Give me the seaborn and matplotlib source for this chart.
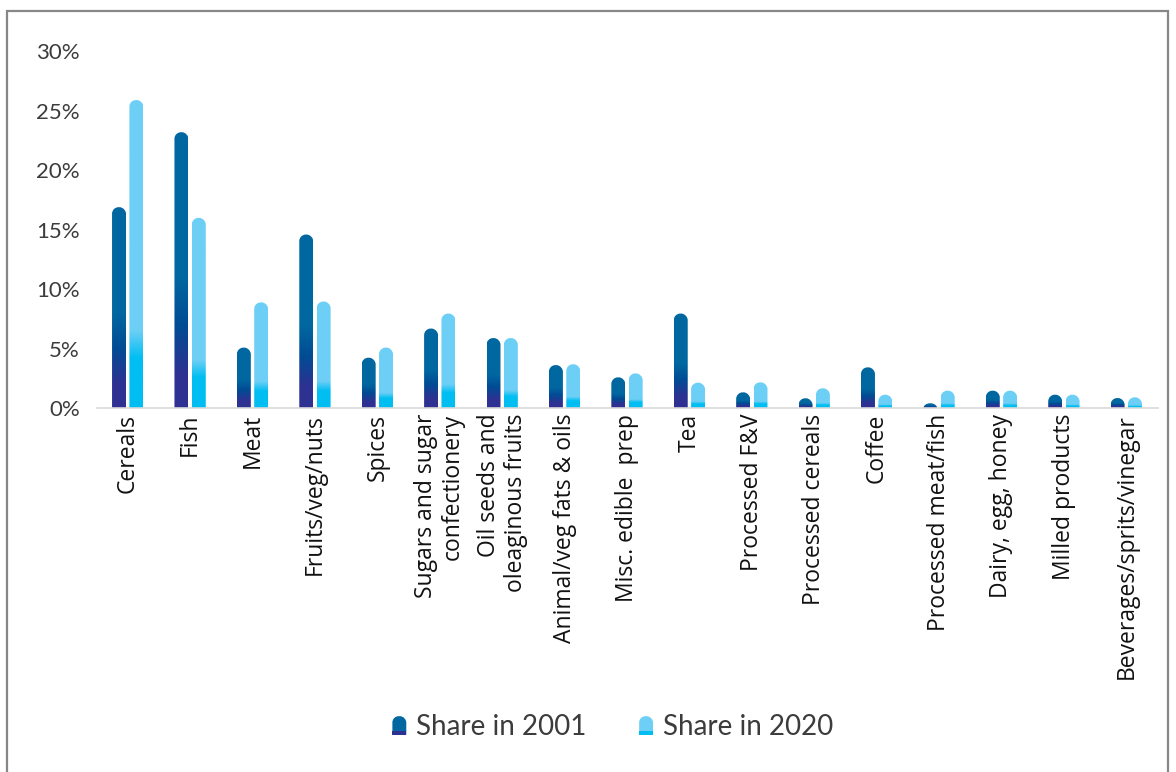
import numpy as np
import pandas as pd
import matplotlib
matplotlib.use("Agg")
import matplotlib.pyplot as plt
import seaborn as sns
from matplotlib.path import Path
from matplotlib.patches import PathPatch, Rectangle
from matplotlib.colors import LinearSegmentedColormap
from matplotlib.legend_handler import HandlerBase

# ---------------- data ----------------
categories = ["Cereals", "Fish", "Meat", "Fruits/veg/nuts", "Spices",
              "Sugars and sugar\nconfectionery", "Oil seeds and\noleaginous fruits",
              "Animal/veg fats & oils", "Misc. edible  prep", "Tea", "Processed F&V",
              "Processed cereals", "Coffee", "Processed meat/fish", "Dairy, egg, honey",
              "Milled products", "Beverages/sprits/vinegar"]
share_2001 = [16.9, 23.2, 5.1, 14.6, 4.25, 6.7, 5.9, 3.63, 2.6, 7.96, 1.34,
              0.84, 3.44, 0.42, 1.48, 1.14, 0.86]
share_2020 = [25.9, 16.0, 8.9, 8.97, 5.1, 7.96, 5.9, 3.7, 2.93, 2.15, 2.18,
              1.68, 1.14, 1.48, 1.48, 1.14, 0.92]
series = ["Share in 2001", "Share in 2020"]
y_ticks = [0, 5, 10, 15, 20, 25, 30]

df = pd.DataFrame({
    "category": categories * 2,
    "share": share_2001 + share_2020,
    "series": [series[0]] * len(categories) + [series[1]] * len(categories),
})

top_colors = {series[0]: "#0067A0", series[1]: "#6DCFF6"}
cmaps = {
    series[0]: LinearSegmentedColormap.from_list(
        "c01", [(0, "#2E3192"), (0.12, "#2E3192"), (0.30, "#004C94"),
                (0.47, "#0067A0"), (1, "#0067A0")]),
    series[1]: LinearSegmentedColormap.from_list(
        "c20", [(0, "#00BEF2"), (0.16, "#00BEF2"), (0.25, "#6DCFF6"),
                (1, "#6DCFF6")]),
}
bottom_colors = {series[0]: "#2E3192", series[1]: "#00BEF2"}

# ---------------- figure ----------------
sns.set_style("white")
plt.rcParams["font.family"] = ["Lato", "DejaVu Sans"]

W, H = 1176, 772
fig = plt.figure(figsize=(W / 100, H / 100), dpi=100)
ax_l, ax_r, ax_b, ax_t = 96.5, 1157.5, 408.3, 51.3
ax = fig.add_axes([ax_l / W, 1 - ax_b / H, (ax_r - ax_l) / W, (ax_b - ax_t) / H])

sns.barplot(data=df, x="category", y="share", hue="series", order=categories,
            hue_order=series, palette=top_colors, width=0.556, gap=0.195,
            ax=ax, legend=False, saturation=1)

xlim = (-0.5, len(categories) - 0.5)
ylim = (0, 30)
ax.set_xlim(*xlim)
ax.set_ylim(*ylim)

px_x = (ax_r - ax_l) / (xlim[1] - xlim[0])
px_y = (ax_b - ax_t) / (ylim[1] - ylim[0])
radius_px = 6.5
rx = radius_px / px_x
ry_full = radius_px / px_y


def rounded_top_path(x0, y0, w, h, rx, ry):
    ry = min(ry, h)
    rx = min(rx, w / 2)
    k = 0.5523
    verts = [
        (x0, y0),
        (x0, y0 + h - ry),
        (x0, y0 + h - ry + k * ry), (x0 + rx - k * rx, y0 + h), (x0 + rx, y0 + h),
        (x0 + w - rx, y0 + h),
        (x0 + w - rx + k * rx, y0 + h), (x0 + w, y0 + h - k * ry), (x0 + w, y0 + h - ry),
        (x0 + w, y0),
        (x0, y0),
    ]
    codes = [Path.MOVETO, Path.LINETO,
             Path.CURVE4, Path.CURVE4, Path.CURVE4,
             Path.LINETO,
             Path.CURVE4, Path.CURVE4, Path.CURVE4,
             Path.LINETO, Path.CLOSEPOLY]
    return Path(verts, codes)


grad = np.linspace(0, 1, 256).reshape(-1, 1)
bars = list(ax.patches)
n = len(categories)
for i, bar in enumerate(bars):
    s = series[0] if i < n else series[1]
    x0, w, h = bar.get_x(), bar.get_width(), bar.get_height()
    bar.set_visible(False)
    if h <= 0:
        continue
    shape = PathPatch(rounded_top_path(x0, 0, w, h, rx, ry_full),
                      facecolor="none", edgecolor="none", transform=ax.transData)
    ax.add_patch(shape)
    im = ax.imshow(grad, extent=[x0, x0 + w, 0, h], origin="lower", aspect="auto",
                   cmap=cmaps[s], interpolation="bilinear", zorder=2)
    im.set_clip_path(shape)

ax.set_xlim(*xlim)
ax.set_ylim(*ylim)

# axes styling
for side in ["left", "right", "top"]:
    ax.spines[side].set_visible(False)
ax.spines["bottom"].set_color("#D9D9D9")
ax.spines["bottom"].set_linewidth(1.2)
ax.spines["bottom"].set_zorder(5)
ax.grid(False)
ax.set_xlabel("")
ax.set_ylabel("")

ax.set_yticks(y_ticks)
ax.set_yticklabels([f"{v}%" for v in y_ticks], family=["Lato", "DejaVu Sans"],
                   fontweight="normal", fontsize=16, color="#3C3C3C")
ax.tick_params(axis="y", length=0, pad=12)

ax.set_xticks(range(len(categories)))
ax.set_xticklabels(categories, rotation=90, ha="center", va="top",
                   multialignment="right", family=["Open Sans", "DejaVu Sans"],
                   fontsize=16.5, color="#111111", linespacing=1.15)
ax.tick_params(axis="x", length=0, pad=4)


# legend with rounded two-tone markers
class RoundedHandler(HandlerBase):
    def __init__(self, s):
        super().__init__()
        self.s = s

    def create_artists(self, legend, orig_handle, xdescent, ydescent, width,
                       height, fontsize, trans):
        x0, y0 = -xdescent, -ydescent
        r = width * 0.45
        top = PathPatch(rounded_top_path(x0, y0, width, height, r, r),
                        facecolor=top_colors[self.s], edgecolor="none",
                        transform=trans)
        bot = Rectangle((x0, y0), width, height * 0.18,
                        facecolor=bottom_colors[self.s], edgecolor="none",
                        transform=trans)
        return [top, bot]


h1 = Rectangle((0, 0), 1, 1)
h2 = Rectangle((0, 0), 1, 1)
leg = fig.legend([h1, h2], series, loc="center", bbox_to_anchor=(0.521, 0.058),
                 ncol=2, frameon=False,
                 handler_map={h1: RoundedHandler(series[0]), h2: RoundedHandler(series[1])},
                 prop={"family": ["Lato", "DejaVu Sans"], "weight": "normal", "size": 20},
                 handlelength=0.5, handleheight=0.65, handletextpad=0.35,
                 columnspacing=1.9, labelcolor="#3C3C3C")

# outer frame
frame = Rectangle((7 / W, -0.02), (1168 - 7) / W, 1 - 11 / H + 0.02,
                  transform=fig.transFigure, fill=False, edgecolor="#878787",
                  linewidth=1.6, clip_on=False)
fig.add_artist(frame)

fig.savefig("out.png", dpi=100)
